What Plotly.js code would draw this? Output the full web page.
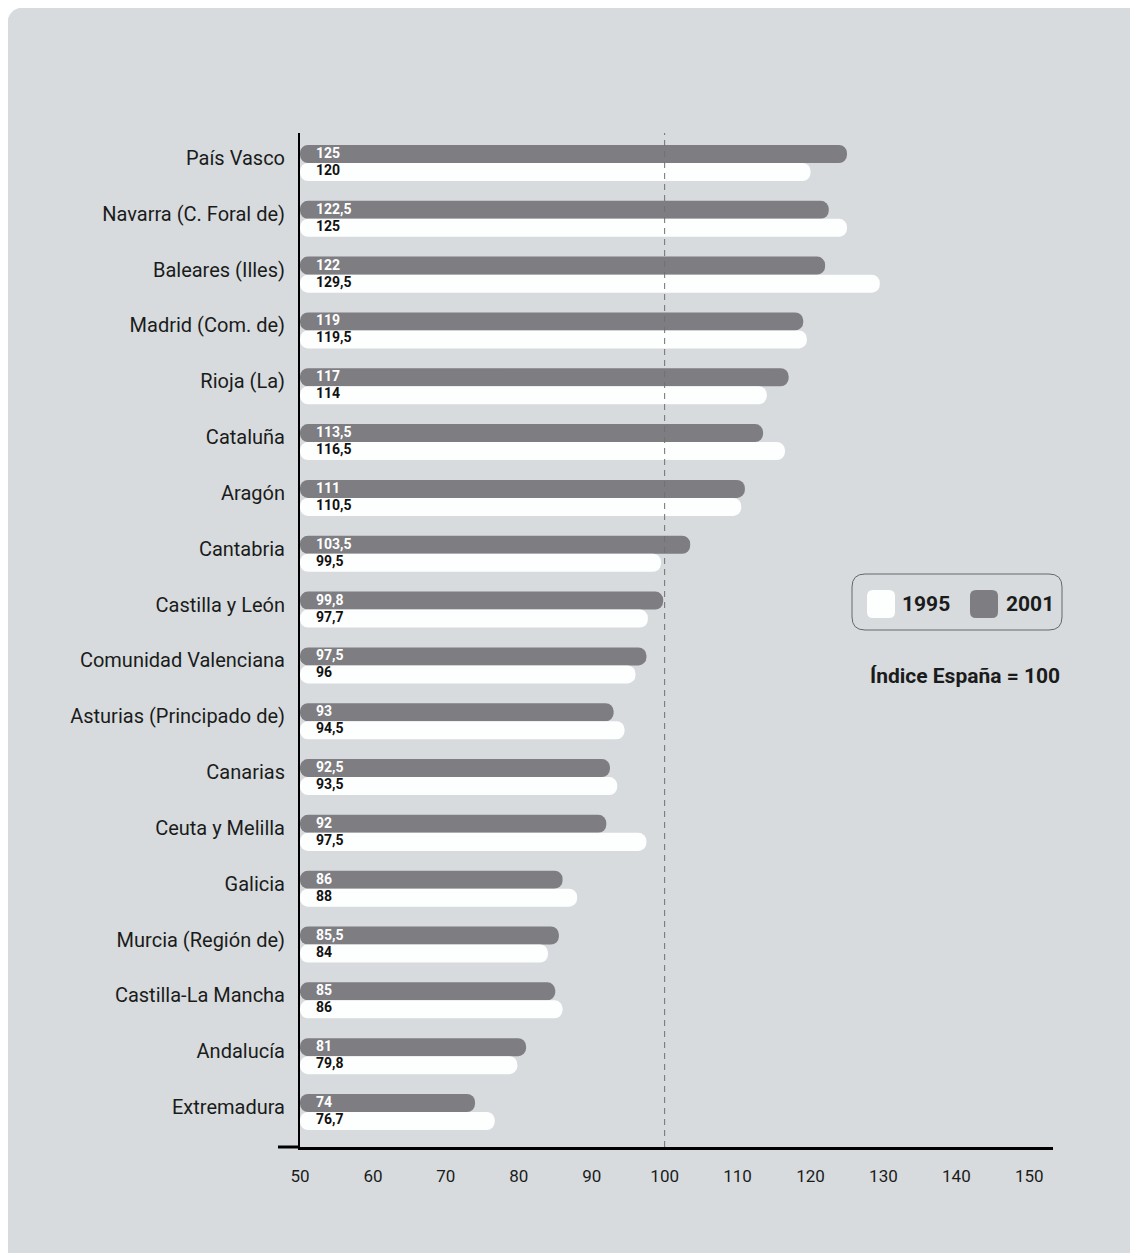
<!DOCTYPE html>
<html>
<head>
<meta charset="utf-8">
<script src="https://cdn.plot.ly/plotly-3.0.1.min.js"></script>
<style>
  html, body { margin: 0; padding: 0; background: #ffffff; }
  #chart { position: absolute; left: 8px; top: 8px; width: 1122px; height: 1245px;
           border-radius: 14px 0 0 0; overflow: hidden; background: #d7dbde; }
</style>
</head>
<body>
<div id="chart"></div>
<script>
// ---- data ----
var regions = ['País Vasco', 'Navarra (C. Foral de)', 'Baleares (Illes)', 'Madrid (Com. de)',
  'Rioja (La)', 'Cataluña', 'Aragón', 'Cantabria', 'Castilla y León', 'Comunidad Valenciana',
  'Asturias (Principado de)', 'Canarias', 'Ceuta y Melilla', 'Galicia', 'Murcia (Región de)',
  'Castilla-La Mancha', 'Andalucía', 'Extremadura'];
var values2001 = [125, 122.5, 122, 119, 117, 113.5, 111, 103.5, 99.8, 97.5, 93, 92.5, 92, 86, 85.5, 85, 81, 74];
var values1995 = [120, 125, 129.5, 119.5, 114, 116.5, 110.5, 99.5, 97.7, 96, 94.5, 93.5, 97.5, 88, 84, 86, 79.8, 76.7];
var axisBase = 50;
var xTicks = [50, 60, 70, 80, 90, 100, 110, 120, 130, 140, 150];
var referenceValue = 100;
var legendYears = ['1995', '2001'];
var noteText = 'Índice España = 100';

// ---- styling ----
var DARK = '#7e7d82', LIGHT = '#fdfefe', INK = '#1b1b1b';
var FONT = 'Roboto, "Noto Sans", sans-serif';

function fmt(v) { return String(v).replace('.', ','); }

var trace2001 = {
  type: 'bar', orientation: 'h', name: '2001',
  y: regions, x: values2001.map(function (v) { return v - axisBase; }), base: axisBase,
  textposition: 'none',
  marker: { color: DARK, cornerradius: 8, line: { width: 0 } },
  showlegend: false, hoverinfo: 'skip'
};
var trace1995 = {
  type: 'bar', orientation: 'h', name: '1995',
  y: regions, x: values1995.map(function (v) { return v - axisBase; }), base: axisBase,
  textposition: 'none',
  marker: { color: LIGHT, cornerradius: 8, line: { width: 0 } },
  showlegend: false, hoverinfo: 'skip'
};

// plot area in page pixels: left 300, right 1053, top 133, bottom 1147
var L = 300, R = 1053, T = 133, B = 1147;
function px(x) { return (x - L) / (R - L); }
function py(y) { return (B - y) / (B - T); }
function roundRect(x0, y0, x1, y1, r) {
  var rx = r / (R - L), ry = r / (B - T);
  var a = px(x0), b = px(x1), top = py(y0), bot = py(y1);
  return 'M' + (a + rx) + ',' + top +
    ' L' + (b - rx) + ',' + top + ' Q' + b + ',' + top + ' ' + b + ',' + (top - ry) +
    ' L' + b + ',' + (bot + ry) + ' Q' + b + ',' + bot + ' ' + (b - rx) + ',' + bot +
    ' L' + (a + rx) + ',' + bot + ' Q' + a + ',' + bot + ' ' + a + ',' + (bot + ry) +
    ' L' + a + ',' + (top - ry) + ' Q' + a + ',' + top + ' ' + (a + rx) + ',' + top + ' Z';
}

// value labels at the base of each bar
var valueLabels = [];
regions.forEach(function (r, i) {
  valueLabels.push({ xref: 'x', yref: 'y', x: axisBase, y: r, xanchor: 'left', yanchor: 'middle',
    xshift: 14, yshift: 10, showarrow: false, text: '<b>' + fmt(values2001[i]) + '</b>',
    font: { family: FONT, size: 14, color: '#ffffff' } });
  valueLabels.push({ xref: 'x', yref: 'y', x: axisBase, y: r, xanchor: 'left', yanchor: 'middle',
    xshift: 14, yshift: -7, showarrow: false, text: '<b>' + fmt(values1995[i]) + '</b>',
    font: { family: FONT, size: 14, color: '#111111' } });
});

var layout = {
  width: 1122, height: 1245,
  margin: { l: L - 8, r: 1130 - R, t: T - 8, b: 1253 - B, pad: 0 },
  paper_bgcolor: '#d7dbde', plot_bgcolor: 'rgba(0,0,0,0)',
  font: { family: FONT, color: INK },
  barmode: 'group', bargap: 0.355, bargroupgap: 0,
  showlegend: false,
  xaxis: {
    range: [axisBase, 153.25], tickvals: xTicks, ticks: '', showgrid: false, zeroline: false,
    showline: true, linecolor: '#000000', linewidth: 3,
    tickfont: { family: FONT, size: 17, color: INK }, ticklabelstandoff: 12, fixedrange: true
  },
  yaxis: {
    type: 'category', categoryorder: 'array', categoryarray: regions,
    range: [17.627, -0.537], ticks: '', showgrid: false, zeroline: false,
    showline: true, linecolor: '#000000', linewidth: 2,
    tickfont: { family: FONT, size: 20, color: INK }, ticklabelstandoff: 9, ticklabelshift: 5,
    fixedrange: true
  },
  shapes: [
    { type: 'line', xref: 'x', yref: 'paper', x0: referenceValue, x1: referenceValue, y0: 0, y1: 1,
      line: { color: '#707070', width: 1, dash: '6px,5px' }, layer: 'above' },
    { type: 'line', xref: 'paper', yref: 'paper', x0: px(278), x1: 0, y0: 0, y1: 0,
      line: { color: '#000000', width: 3 } },
    { type: 'path', xref: 'paper', yref: 'paper', path: roundRect(852, 574, 1062, 630, 13),
      line: { color: '#666666', width: 1 }, fillcolor: 'rgba(0,0,0,0)' },
    { type: 'path', xref: 'paper', yref: 'paper', path: roundRect(867, 590, 895, 618, 6),
      line: { width: 0 }, fillcolor: LIGHT },
    { type: 'path', xref: 'paper', yref: 'paper', path: roundRect(970, 590, 998, 618, 6),
      line: { width: 0 }, fillcolor: DARK }
  ],
  annotations: valueLabels.concat([
    { xref: 'paper', yref: 'paper', x: px(900), y: py(604), xanchor: 'left', yanchor: 'middle',
      text: '<b>' + legendYears[0] + '</b>', showarrow: false, font: { family: FONT, size: 21, color: INK } },
    { xref: 'paper', yref: 'paper', x: px(1004), y: py(604), xanchor: 'left', yanchor: 'middle',
      text: '<b>' + legendYears[1] + '</b>', showarrow: false, font: { family: FONT, size: 21, color: INK } },
    { xref: 'paper', yref: 'paper', x: px(1062), y: py(676), xanchor: 'right', yanchor: 'middle',
      text: '<b>' + noteText + '</b>', showarrow: false, font: { family: FONT, size: 21, color: INK } }
  ])
};

Plotly.newPlot('chart', [trace2001, trace1995], layout, { displayModeBar: false, staticPlot: true });
</script>
</body>
</html>
